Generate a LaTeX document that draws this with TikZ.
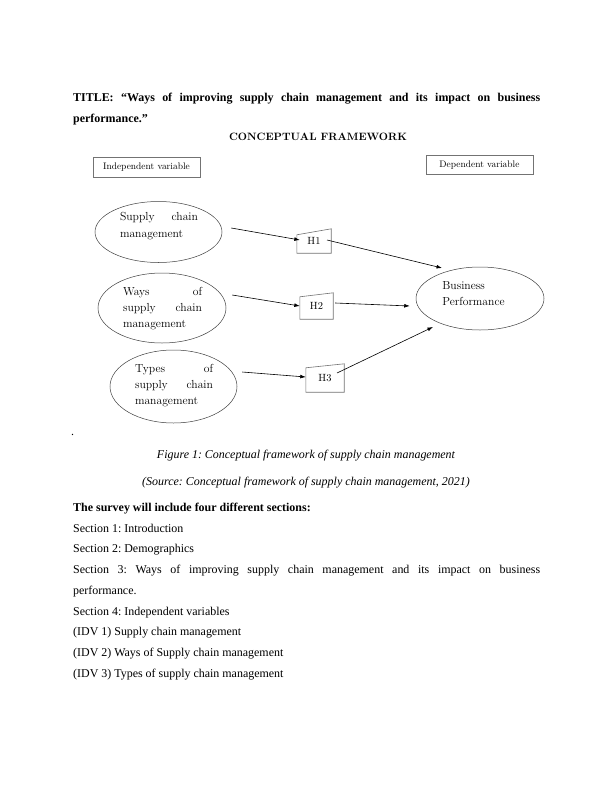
\documentclass[tikz,border=0pt]{standalone}
\usepackage{fontspec}
\newfontfamily\tnr{Liberation Serif}
\usepackage{tikz}
\usetikzlibrary{
  arrows.meta,
  shapes.geometric
}
\frenchspacing
\newcommand\justline[2]{\hbox to #1{\spaceskip=\fontdimen2\font plus 1fill\relax #2}}

\begin{document}
\begin{tikzpicture}[
  x=1bp, y=-1bp,
  >={Latex[length=5.5bp,width=3.8bp]},
  body/.style={font=\tnr\fontsize{12}{14}\selectfont,anchor=base west,inner sep=0pt},
  bodybold/.style={body,font=\tnr\bfseries\fontsize{12}{14}\selectfont},
  caption/.style={font=\tnr\itshape\fontsize{12}{14}\selectfont,anchor=base,inner sep=0pt},
  heading/.style={font=\bfseries\fontsize{10.7}{12}\selectfont,anchor=base,inner sep=0pt},
  varbox/.style={draw=black!55,line width=0.6bp,minimum width=107bp,minimum height=20bp,
    inner sep=0pt,font=\fontsize{9.5}{11}\selectfont},
  var/.style={ellipse,draw=black!75,line width=0.5bp,inner sep=0pt},
  vartext/.style={font=\fontsize{11.7}{16.3}\selectfont,align=left,inner sep=0pt},
  hyp/.style={inner sep=0pt,font=\fontsize{10.5}{12}\selectfont},
  hypline/.style={draw=black!55,line width=0.6bp},
  link/.style={->,line width=0.6bp}
]
\fill[white] (0,0) rectangle (612,792);
\useasboundingbox (0,0) rectangle (612,792);

% Title and heading.
\node[bodybold] (title1) at (73,101)
  {\justline{467bp}{TITLE: “Ways of improving supply chain management and its impact on business}};
\node[bodybold] (title2) at (73,122) {performance.”};
\node[heading] (heading) at (318,140) {CONCEPTUAL FRAMEWORK};

% Variable labels.
\node[varbox] (indep) at (146.5,167) {Independent variable};
\node[varbox,minimum height=19bp] (dep) at (479.5,165) {Dependent variable};

% Independent variables.
\node[var,minimum width=127bp,minimum height=61bp] (e1) at (158.5,232) {};
\node[vartext] (e1t) at (159,226)
  {\justline{78bp}{Supply chain}\\management};
\node[var,minimum width=128bp,minimum height=70bp] (e2) at (162,308) {};
\node[vartext] (e2t) at (162.5,308.5)
  {\justline{79bp}{Ways of}\\\justline{79bp}{supply chain}\\management};
\node[var,minimum width=127bp,minimum height=73bp] (e3) at (173.5,386.5) {};
\node[vartext] (e3t) at (174,385.5)
  {\justline{78bp}{Types of}\\\justline{78bp}{supply chain}\\management};

% Dependent variable.
\node[var,minimum width=128bp,minimum height=63bp] (bp) at (480,298.5) {};
\node[vartext] (bpt) at (473.5,293.5) {Business\\Performance};

% Hypotheses.
\node[hyp,minimum width=34bp,minimum height=24bp] (h1) at (314,241) {H1};
\draw[hypline] (h1.south west) -- (h1.south east) -- (h1.north east)
  -- ([yshift=-6bp]h1.north west) -- cycle;
\node[hyp,minimum width=33bp,minimum height=26bp] (h2) at (316.5,306) {H2};
\draw[hypline] (h2.south west) -- (h2.south east) -- (h2.north east)
  -- ([yshift=-4bp]h2.north west) -- cycle;
\node[hyp,minimum width=38bp,minimum height=28bp] (h3) at (325,378) {H3};
\draw[hypline] (h3.south west) -- (h3.south east) -- (h3.north east)
  -- ([yshift=-4bp]h3.north west) -- cycle;

% Links.
\draw[link] ([xshift=9bp,yshift=4bp]e1.east) -- ([xshift=3bp,yshift=1bp]h1.west);
\draw[link] ([xshift=6bp,yshift=13bp]e2.east) -- (h2.west);
\draw[link] ([xshift=5bp,yshift=14.5bp]e3.east) -- ([yshift=1bp]h3.west);
\draw[link] ([xshift=13bp,yshift=1bp]h1.center) -- ([xshift=-38bp,yshift=30.5bp]bp.center);
\draw[link] ([xshift=2bp,yshift=3bp]h2.east) -- ([xshift=-6bp,yshift=-7.5bp]bp.west);
\draw[link] ([xshift=12bp,yshift=5bp]h3.center) -- ([xshift=-47bp,yshift=-28.5bp]bp.center);

% Caption.
\node[body] (dot) at (71,435) {.};
\node[caption] (fig) at (306,458)
  {Figure 1: Conceptual framework of supply chain management};
\node[caption] (src) at (306,485.5)
  {(Source: Conceptual framework of supply chain management, 2021)};

% Survey sections.
\node[bodybold] (survey) at (73,511.5) {The survey will include four different sections:};
\node[body] (s1) at (73,532.2) {Section 1: Introduction};
\node[body] (s2) at (73,552.9) {Section 2: Demographics};
\node[body] (s3) at (73,573.6)
  {\justline{467bp}{Section 3: Ways of improving supply chain management and its impact on business}};
\node[body] (s3b) at (73,594.3) {performance.};
\node[body] (s4) at (73,615) {Section 4: Independent variables};
\node[body] (idv1) at (73,635.7) {(IDV 1) Supply chain management};
\node[body] (idv2) at (73,656.4) {(IDV 2) Ways of Supply chain management};
\node[body] (idv3) at (73,677.1) {(IDV 3) Types of supply chain management};
\end{tikzpicture}
\end{document}
